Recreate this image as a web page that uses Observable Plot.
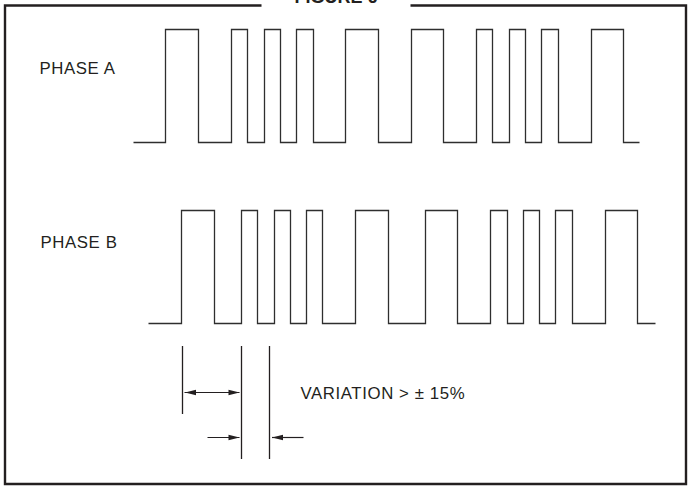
<!DOCTYPE html>
<html>
<head>
<meta charset="utf-8">
<script src="https://cdn.jsdelivr.net/npm/d3@7"></script>
<script src="https://cdn.jsdelivr.net/npm/@observablehq/plot@0.6"></script>
<style>
html, body { margin: 0; padding: 0; background: #fff; }
#chart svg { display: block; overflow: hidden; }
#chart .lbl text { letter-spacing: 0.6px; }
</style>
</head>
<body>
<div id="chart"></div>
<script>
// ---------- data ----------
const titleText = "FIGURE 6";
const phaseNames = ["PHASE A", "PHASE B"];
// transition times of each phase: start, rise, fall, rise, fall, ..., end
const phaseAEdges = [133, 165, 198, 231, 247, 264, 280, 296, 313, 345, 378, 411, 443, 476, 492, 509, 525, 541, 558, 591, 623, 639];
const phaseBEdges = [148, 181, 214, 241, 257, 274, 290, 306, 322, 355, 388, 425, 457, 490, 507, 523, 539, 555, 572, 605, 637, 655];
// measurement marker times (period reference and variation window)
const markerTimes = [182, 241, 269];
const markerKinds = ["short", "long", "long"];
const noteText = "VARIATION > \u00B1 15%";

// ---------- layout ----------
const W = 689, H = 487;
const lanes = {
  "PHASE A": {high: 29, low: 142, labelX: 39, labelY: 73.3},
  "PHASE B": {high: 210, low: 323, labelX: 40, labelY: 247.3}
};
const ink = "#231f20";
const wave = "#2e2e2e";

function toSteps(name, edges) {
  const lane = lanes[name];
  return edges.map((t, i) => {
    const level = (i === 0 || i === edges.length - 1) ? 0 : (i % 2 === 1 ? 1 : 0);
    return {phase: name, t, y: level ? lane.high : lane.low};
  });
}
const wavePoints = [
  ...toSteps(phaseNames[0], phaseAEdges),
  ...toSteps(phaseNames[1], phaseBEdges)
];

const labelData = phaseNames.map(n => ({text: n, x: lanes[n].labelX, y: lanes[n].labelY}));

// border with a gap for the title
const gapL = 261, gapR = 410, bTop = 5, bBot = 483.5, bLeft = 4.5, bRight = 685.5;
const border = [
  {x: gapL, y: bTop}, {x: bLeft, y: bTop}, {x: bLeft, y: bBot},
  {x: bRight, y: bBot}, {x: bRight, y: bTop}, {x: gapR, y: bTop}
];

const markTop = 346, markShortEnd = 414, markLongEnd = 459;
const markers = markerTimes.map((t, i) => ({t, y2: markerKinds[i] === "short" ? markShortEnd : markLongEnd}));

const dblY = 392, lowY = 437;
const shafts = [
  {x1: markerTimes[0] + 2, x2: markerTimes[1] - 2, y: dblY},
  {x1: 207, x2: markerTimes[1] - 2, y: lowY},
  {x1: 303, x2: markerTimes[2] + 2.5, y: lowY}
];
const headsRight = [
  {x: markerTimes[1] - 2, y: dblY},
  {x: markerTimes[1] - 2, y: lowY}
];
const headsLeft = [
  {x: markerTimes[0] + 2.5, y: dblY},
  {x: markerTimes[2] + 2.5, y: lowY}
];
const headRight = {draw(ctx) { ctx.moveTo(0, 0); ctx.lineTo(-11, -2.8); ctx.lineTo(-11, 2.8); ctx.closePath(); }};
const headLeft = {draw(ctx) { ctx.moveTo(0, 0); ctx.lineTo(11, -2.8); ctx.lineTo(11, 2.8); ctx.closePath(); }};

const font = "'Liberation Sans', Arial, Helvetica, sans-serif";

const chart = Plot.plot({
  width: W,
  height: H,
  margin: 0,
  x: {domain: [0, W], range: [0, W], axis: null},
  y: {domain: [0, H], range: [0, H], axis: null},
  style: {fontFamily: font, background: "#fff"},
  marks: [
    Plot.line(border, {x: "x", y: "y", stroke: ink, strokeWidth: 2.4, strokeLinejoin: "miter", strokeLinecap: "butt", strokeMiterlimit: 4}),
    Plot.line(wavePoints, {x: "t", y: "y", z: "phase", curve: "step-after", stroke: wave, strokeWidth: 1.3, strokeLinejoin: "miter", strokeLinecap: "butt", strokeMiterlimit: 4}),
    Plot.ruleX(markers, {x: "t", y1: markTop, y2: "y2", stroke: ink, strokeWidth: 1.3}),
    Plot.link(shafts, {x1: "x1", x2: "x2", y1: "y", y2: "y", stroke: ink, strokeWidth: 1.2}),
    Plot.dot(headsRight, {x: "x", y: "y", symbol: headRight, fill: ink, stroke: "none", r: 3}),
    Plot.dot(headsLeft, {x: "x", y: "y", symbol: headLeft, fill: ink, stroke: "none", r: 3}),
    Plot.text(labelData, {x: "x", y: "y", text: "text", textAnchor: "start", lineAnchor: "bottom", fontSize: 16.8, fill: ink, className: "lbl"}),
    Plot.text([noteText], {x: 300, y: 398.3, text: d => d, textAnchor: "start", lineAnchor: "bottom", fontSize: 16.8, fill: ink, className: "lbl"}),
    Plot.text([titleText], {x: (gapL + gapR) / 2, y: 2, text: d => d, textAnchor: "middle", lineAnchor: "bottom", fontSize: 18, fontWeight: "bold", fill: ink})
  ]
});
document.getElementById("chart").appendChild(chart);
</script>
</body>
</html>
